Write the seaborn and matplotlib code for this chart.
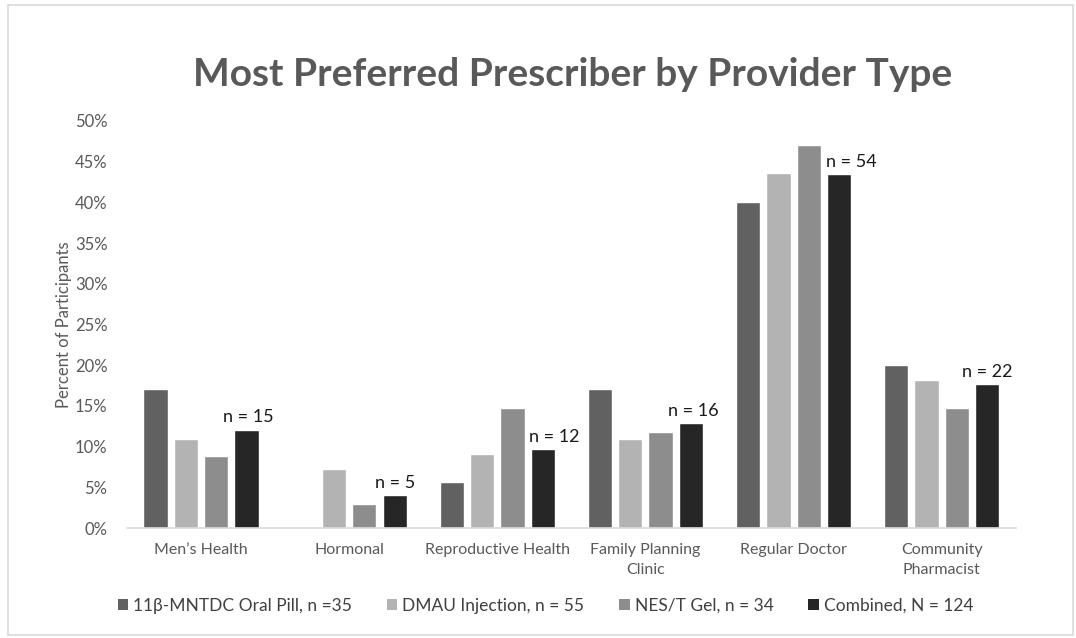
import matplotlib
matplotlib.use("Agg")
import matplotlib.pyplot as plt
import seaborn as sns
import pandas as pd
from matplotlib.patches import Rectangle, Patch

providers = ["Men\u2019s Health", "Hormonal", "Reproductive Health",
             "Family Planning\nClinic", "Regular Doctor", "Community\nPharmacist"]
series = ["11\u03b2-MNTDC Oral Pill, n =35", "DMAU Injection, n = 55",
          "NES/T Gel, n = 34", "Combined, N = 124"]
oral_pill = [17.1, 0.0, 5.7, 17.1, 40.0, 20.0]
dmau = [10.9, 7.3, 9.1, 10.9, 43.6, 18.2]
nest_gel = [8.8, 2.9, 14.7, 11.8, 47.1, 14.7]
combined = [12.1, 4.0, 9.7, 12.9, 43.5, 17.7]
n_labels = ["n = 15", "n = 5", "n = 12", "n = 16", "n = 54", "n = 22"]
y_ticks = [0, 5, 10, 15, 20, 25, 30, 35, 40, 45, 50]

colors = ["#616161", "#b3b3b3", "#8d8d8d", "#262626"]

sns.set_theme(style="white")
plt.rcParams["font.family"] = ["Lato", "DejaVu Sans"]

rows = []
for s, vals in zip(series, [oral_pill, dmau, nest_gel, combined]):
    for p, v in zip(providers, vals):
        rows.append({"Provider": p, "Series": s, "Percent": v})
df = pd.DataFrame(rows)

fig = plt.figure(figsize=(10.76, 6.38), dpi=100)
ax = fig.add_axes([0.118, 0.1724, 0.826, 0.638])

sns.barplot(data=df, x="Provider", y="Percent", hue="Series", order=providers,
            hue_order=series, palette=colors, saturation=1, width=0.82, gap=0.2,
            ax=ax, legend=False)

ax.set_ylim(0, 50)
ax.set_yticks(y_ticks)
ax.set_yticklabels([f"{t}%" for t in y_ticks], fontsize=12, color="#595959")
ax.tick_params(axis="x", labelsize=11.5, labelcolor="#595959", length=0, pad=11)
for lbl in ax.get_xticklabels():
    lbl.set_linespacing(1.55)
ax.tick_params(axis="y", length=0, pad=14)
ax.set_xlabel("")
ax.set_ylabel("Percent of Participants", fontsize=12, color="#595959", labelpad=2)
for side in ["top", "right", "left"]:
    ax.spines[side].set_visible(False)
ax.spines["bottom"].set_color("#d9d9d9")
ax.spines["bottom"].set_linewidth(1.2)
ax.set_xlim(-0.5, len(providers) - 0.5)

# n labels above the combined bars
comb_bars = ax.containers[3]
x_off = [1, 0, 8, 2, 9, 0]
for bar, lab, dx in zip(comb_bars, n_labels, x_off):
    ax.annotate(lab, (bar.get_x() + bar.get_width() / 2, bar.get_height()),
                xytext=(dx, 3), textcoords="offset points", ha="center", va="bottom",
                fontsize=13, color="#1a1a1a")

fig.suptitle("Most Preferred Prescriber by Provider Type", x=0.532, y=0.91,
             fontsize=28, fontweight="bold", color="#595959")

handles = [Patch(facecolor=c, edgecolor="none") for c in colors]
fig.legend(handles, series, loc="center", bbox_to_anchor=(0.507, 0.05), ncol=4,
           frameon=False, fontsize=12.5, handlelength=0.6, handleheight=0.6,
           handletextpad=0.3, columnspacing=2.0, labelcolor="#404040")

fig.patches.append(Rectangle((0.007, 0.004), 0.990, 0.988, transform=fig.transFigure,
                             fill=False, edgecolor="#d9d9d9", linewidth=1.2))

fig.savefig("out.png", dpi=100)
